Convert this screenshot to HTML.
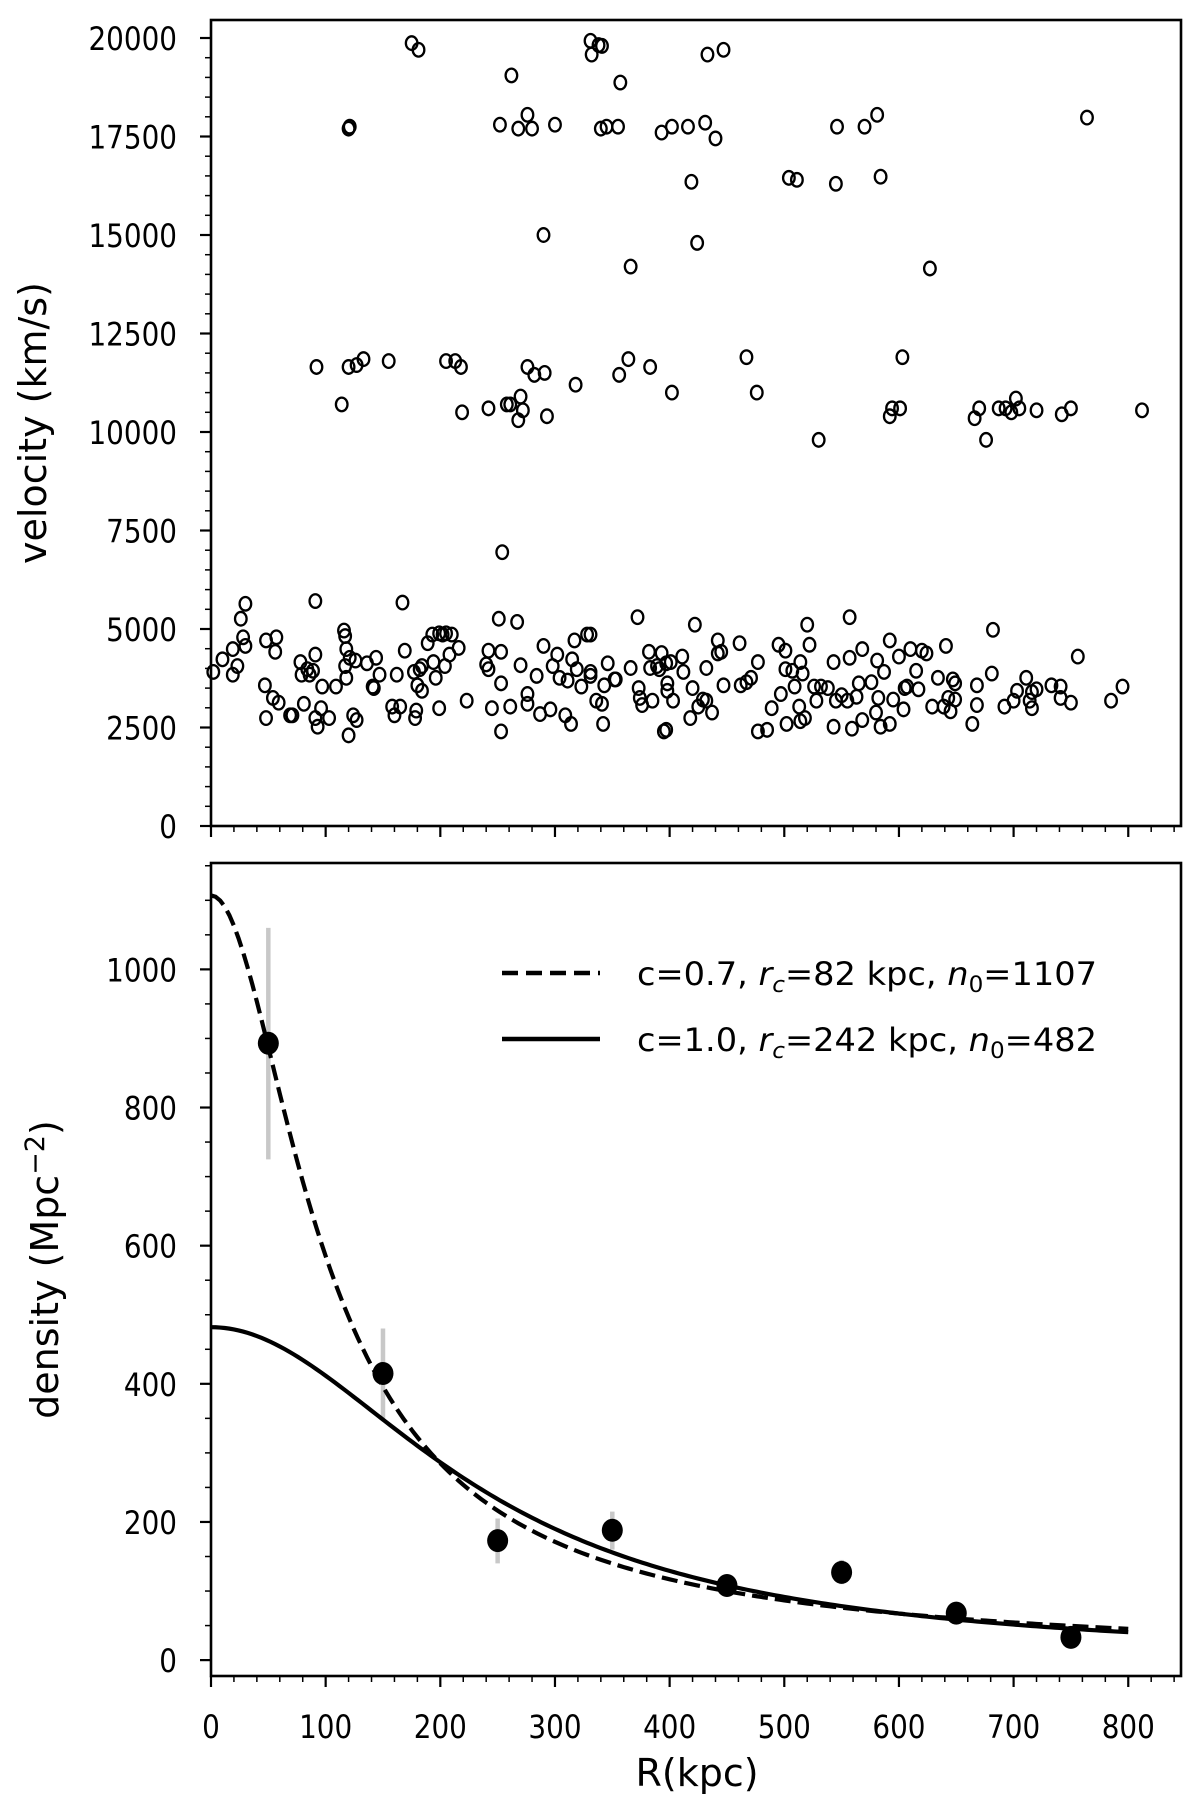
<!DOCTYPE html>
<html><head><meta charset="utf-8"><style>
html,body{margin:0;padding:0;background:#fff;}
svg{display:block;}
text{font-family:"DejaVu Sans","Liberation Sans",sans-serif;fill:#000;}
</style></head><body>
<svg id="fig" width="1200" height="1800" viewBox="0 0 1200 1800"></svg>
<script>
// ---- data ----
const velR = [175,181,120,121,262,252,268,276,280,300,331,332,338,341,357,340,345,355,393,402,416,431,433,440,447,419,424,290,366,504,511,546,545,570,581,584,627,764,
92,114,120,127,133,155,205,213,218,219,242,258,261,270,268,272,276,282,291,293,318,356,364,383,402,467,476,530,594,592,601,603,666,670,676,687,693,698,702,705,720,742,750,812,254,
2,10,19,19,23,26,28,30,30,47,48,48,54,56,57,59,69,71,78,79,81,84,86,89,91,91,91,93,96,97,103,109,116,117,117,118,118,121,120,124,127,126,136,141,142,144,147,158,160,162,165,167,169,177,178,179,180,182,184,184,189,193,194,196,199,199,202,204,205,208,210,216,223,240,242,242,245,251,253,253,253,261,267,270,276,276,284,287,290,296,298,302,304,309,311,314,315,317,319,323,328,331,331,331,336,341,342,343,346,352,353,366,372,373,374,376,382,383,385,389,391,393,395,397,397,398,398,401,403,411,412,418,420,422,425,429,432,432,437,442,442,445,447,461,462,467,471,477,485,477,489,495,497,501,501,502,507,509,513,514,514,516,520,522,518,526,528,532,538,543,543,545,550,555,557,557,559,563,565,568,568,576,580,581,582,584,587,592,592,595,600,604,605,607,610,615,617,620,624,629,634,639,641,643,647,649,649,645,664,668,668,682,681,692,700,703,711,714,716,716,720,733,741,741,750,756,785,795];
const velV = [19870,19700,17700,17750,19050,17800,17700,18050,17700,17800,19930,19580,19820,19800,18870,17700,17750,17750,17600,17750,17750,17850,19580,17450,19700,16350,14800,15000,14200,16450,16400,17750,16300,17750,18050,16480,14150,17980,
11650,10700,11650,11700,11850,11800,11800,11800,11650,10500,10600,10700,10700,10900,10300,10550,11650,11450,11500,10400,11200,11450,11850,11650,11000,11900,11000,9800,10600,10400,10600,11900,10350,10600,9800,10600,10600,10500,10850,10600,10550,10450,10600,10550,6950,
3910,4230,3840,4490,4060,5260,4790,5640,4570,3570,2740,4710,3250,4420,4790,3130,2810,2810,4160,3840,3100,3980,3840,3940,4350,5710,2740,2520,2990,3540,2740,3540,4960,4820,4060,4490,3760,4270,2300,2810,2690,4200,4130,3540,3500,4270,3840,3030,2810,3840,3030,5670,4450,3910,2740,2930,3570,3980,3430,4060,4640,4860,4160,3760,2990,4890,4860,4060,4890,4350,4860,4520,3180,4100,3980,4450,2990,5260,4420,3620,2400,3030,5180,4080,3100,3350,3810,2840,4570,2960,4060,4350,3760,2810,3690,2590,4230,4710,3980,3540,4860,4860,3910,3810,3180,3100,2590,3570,4130,3720,3720,4010,5300,3500,3250,3070,4420,4010,3180,4060,3980,4390,2400,2440,4130,3620,3430,4160,3180,4300,3910,2740,3500,5110,3030,3210,3180,4010,2880,4380,4710,4420,3570,4640,3570,3650,3760,2400,2440,4160,2990,4600,3350,4450,3980,2590,3940,3540,3030,4160,2660,3870,5110,4600,2740,3540,3180,3540,3500,4160,2520,3180,3320,3180,5300,4270,2470,3280,3620,4490,2690,3650,2880,4200,3250,2520,3910,2590,4710,3210,4300,2960,3500,3540,4490,3940,3470,4450,4380,3030,3760,3030,4570,3250,3720,3620,3210,2910,2590,3570,3070,4980,3870,3030,3180,3430,3760,3180,2990,3400,3470,3570,3540,3250,3130,4300,3180,3540];
const binR = [50,150,250,350,450,550,650,750];
const binDensity = [893,415,173,188,108,127,68,33];
const errLow = [725,350,140,160,95,110,55,20];
const errHigh = [1060,480,205,215,120,145,80,45];
const modelA = {c:0.7, rc:82, n0:1107};
const modelB = {c:1.0, rc:242, n0:482};
const topYTicks = [0,2500,5000,7500,10000,12500,15000,17500,20000];
const botYTicks = [0,200,400,600,800,1000];
const xTicks = [0,100,200,300,400,500,600,700,800];

// ---- geometry ----
const NS='http://www.w3.org/2000/svg';
const svg=document.getElementById('fig');
const L=211, R=1181, XMAX=846;
const T1=20, B1=826, V0=0, V1=20457;
const T2=863, B2=1676, D0=-23, D1=1154;
const xs=r=>L+(r/XMAX)*(R-L);
const ys1=v=>B1-(v-V0)/(V1-V0)*(B1-T1);
const ys2=d=>B2-(d-D0)/(D1-D0)*(B2-T2);
function mk(tag,attrs,parent){const e=document.createElementNS(NS,tag);for(const k in attrs)e.setAttribute(k,attrs[k]);(parent||svg).appendChild(e);return e;}
function txt(s,x,y,anchor,size,parent){const e=mk('text',{x:0,y:0,'text-anchor':anchor,'font-size':size,transform:`translate(${x},${y}) scale(0.87,1)`},parent);e.textContent=s;return e;}

// ---- top panel ----
const g1=mk('g',{});


for(let i=0;i<velR.length;i++){
  const c=mk('ellipse',{cx:xs(velR[i]),cy:ys1(velV[i]),rx:5.8,ry:6.8,fill:'none',stroke:'#000','stroke-width':2.3},g1);
  
  
}
const f1=mk('rect',{x:L,y:T1,width:R-L,height:B1-T1,fill:'none',stroke:'#000','stroke-width':2.6},g1);


for(let v=0;v<=V1;v+=500){const maj=v%2500===0;mk('line',{x1:L,x2:L-(maj?11:6),y1:ys1(v),y2:ys1(v),stroke:'#000','stroke-width':maj?2.2:1.5},g1);}
topYTicks.forEach(v=>{const t=txt(String(v),L-34,ys1(v)+12,'end',32,g1);});
for(let r=0;r<=XMAX;r+=20){const maj=r%100===0;mk('line',{x1:xs(r),x2:xs(r),y1:B1,y2:B1+(maj?11:6),stroke:'#000','stroke-width':maj?2.2:1.5},g1);}
const yl1=mk('text',{x:0,y:0,'text-anchor':'middle','font-size':38,transform:`translate(46,${(T1+B1)/2}) rotate(-90)`},g1);
yl1.textContent='velocity (km/s)';



// ---- bottom panel ----
const g2=mk('g',{});


function curve(m){let d='';for(let r=0;r<=800;r+=4){const y=m.n0*Math.pow(1+(r/m.rc)*(r/m.rc),-m.c);d+=(r?'L':'M')+xs(r).toFixed(2)+','+ys2(y).toFixed(2);}return d;}
for(let i=0;i<binR.length;i++){
  const e=mk('line',{x1:xs(binR[i]),x2:xs(binR[i]),y1:ys2(errLow[i]),y2:ys2(errHigh[i]),stroke:'#c8c8c8','stroke-width':4.5},g2);
  
  
}
const cA=mk('path',{d:curve(modelA),fill:'none',stroke:'#000','stroke-width':4.2,'stroke-dasharray':'16,7'},g2);


const cB=mk('path',{d:curve(modelB),fill:'none',stroke:'#000','stroke-width':4.2},g2);


for(let i=0;i<binR.length;i++){
  const p=mk('ellipse',{cx:xs(binR[i]),cy:ys2(binDensity[i]),rx:10.5,ry:11.5,fill:'#000'},g2);
  
  
}
const f2=mk('rect',{x:L,y:T2,width:R-L,height:B2-T2,fill:'none',stroke:'#000','stroke-width':2.6},g2);


for(let d=0;d<=D1;d+=50){const maj=d%200===0;mk('line',{x1:L,x2:L-(maj?11:6),y1:ys2(d),y2:ys2(d),stroke:'#000','stroke-width':maj?2.2:1.5},g2);}
botYTicks.forEach(d=>{const t=txt(String(d),L-34,ys2(d)+12,'end',32,g2);});
for(let r=0;r<=XMAX;r+=20){const maj=r%100===0;mk('line',{x1:xs(r),x2:xs(r),y1:B2,y2:B2+(maj?11:6),stroke:'#000','stroke-width':maj?2.2:1.5},g2);}
xTicks.forEach(r=>{const t=txt(String(r),xs(r),B2+62,'middle',32,g2);});
const yl2=mk('text',{x:0,y:0,'text-anchor':'middle','font-size':38,transform:`translate(58,${(T2+B2)/2}) rotate(-90)`},g2);
yl2.innerHTML='density (Mpc<tspan dy="-14" font-size="27">−2</tspan><tspan dy="14">)</tspan>';


const xl=mk('text',{x:0,y:0,'text-anchor':'middle','font-size':38,transform:`translate(697,1786)`},g2);
xl.textContent='R(kpc)';



// legend
const lg=mk('g',{},g2);


mk('line',{x1:502,x2:600,y1:973,y2:973,stroke:'#000','stroke-width':4.5,'stroke-dasharray':'16,8'},lg);
mk('line',{x1:502,x2:600,y1:1039,y2:1039,stroke:'#000','stroke-width':4.5},lg);
const l1=mk('text',{x:637,y:985,'font-size':32,textLength:460,lengthAdjust:'spacingAndGlyphs'},lg);
l1.innerHTML='c=0.7, <tspan font-style="italic">r</tspan><tspan font-style="italic" font-size="22" dy="7">c</tspan><tspan dy="-7">=82 kpc, </tspan><tspan font-style="italic">n</tspan><tspan font-size="22" dy="7">0</tspan><tspan dy="-7">=1107</tspan>';


const l2=mk('text',{x:637,y:1051,'font-size':32,textLength:460,lengthAdjust:'spacingAndGlyphs'},lg);
l2.innerHTML='c=1.0, <tspan font-style="italic">r</tspan><tspan font-style="italic" font-size="22" dy="7">c</tspan><tspan dy="-7">=242 kpc, </tspan><tspan font-style="italic">n</tspan><tspan font-size="22" dy="7">0</tspan><tspan dy="-7">=482</tspan>';


</script>
</body></html>
